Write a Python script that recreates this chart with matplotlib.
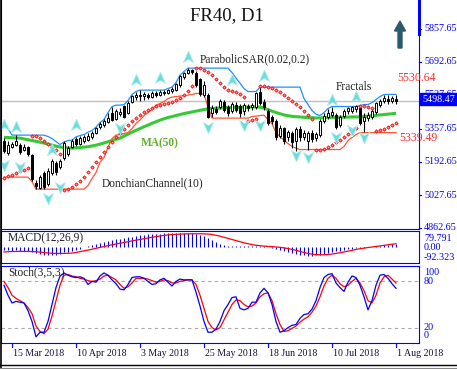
import matplotlib
matplotlib.use("Agg")
import matplotlib.pyplot as plt
import numpy as np
from matplotlib.path import Path
from matplotlib.patches import Rectangle, FancyArrow
from matplotlib.lines import Line2D

plt.rcParams['font.family'] = ['Liberation Serif', 'DejaVu Serif']

# ---------------- data ----------------
opens = [5300,5240,5270,5280,5280,5255,5268,5228,5090,5065,5140,5085,5140,5190,5170,5212,5235,5270,5310,5285,
         5300,5305,5318,5340,5368,5378,5395,5440,5410,5435,5475,5440,5495,5520,5530,5525,5530,5520,5540,5530,
         5545,5540,5550,5555,5580,5620,5640,5655,5640,5610,5530,5530,5440,5460,5470,5495,5470,5450,5480,5475,
         5450,5475,5470,5470,5545,5495,5450,5420,5400,5325,5365,5320,5340,5300,5360,5320,5300,5340,5315,5330,
         5400,5420,5430,5430,5380,5425,5450,5450,5460,5465,5400,5415,5420,5445,5480,5500,5510,5500,5510]
closes = [5250,5280,5285,5297,5245,5270,5232,5110,5075,5120,5070,5150,5200,5145,5200,5290,5262,5300,5285,5315,
          5320,5325,5340,5365,5385,5400,5415,5405,5450,5445,5420,5490,5525,5530,5525,5535,5520,5540,5530,5545,
          5540,5555,5560,5585,5625,5640,5655,5645,5580,5535,5580,5420,5465,5445,5500,5455,5440,5485,5455,5440,
          5480,5465,5480,5540,5490,5470,5390,5400,5320,5365,5300,5345,5295,5360,5320,5340,5340,5310,5335,5400,
          5425,5440,5445,5370,5420,5450,5465,5470,5475,5390,5420,5430,5450,5490,5500,5515,5500,5515,5498.47]
highs = [5315,5300,5295,5330,5290,5285,5275,5235,5105,5130,5150,5165,5210,5200,5210,5300,5275,5310,5320,5322,
         5330,5340,5350,5370,5392,5408,5440,5470,5458,5462,5480,5500,5530,5545,5552,5545,5540,5548,5550,5552,
         5552,5560,5567,5590,5627,5645,5662,5660,5648,5615,5600,5540,5480,5475,5510,5505,5480,5495,5492,5482,
         5490,5485,5490,5545,5567,5510,5460,5430,5410,5380,5370,5355,5350,5370,5375,5355,5350,5352,5345,5410,
         5440,5460,5470,5440,5430,5460,5470,5475,5480,5472,5440,5445,5460,5495,5510,5527,5530,5525,5530]
lows = [5240,5228,5262,5272,5232,5248,5225,5098,5060,5058,5060,5075,5130,5130,5160,5205,5225,5262,5275,5278,
        5290,5298,5310,5332,5360,5370,5388,5398,5402,5425,5412,5435,5488,5505,5500,5505,5508,5512,5520,5522,
        5530,5532,5540,5548,5570,5610,5632,5635,5570,5525,5520,5412,5420,5435,5460,5445,5425,5440,5445,5420,
        5430,5450,5455,5460,5480,5455,5380,5385,5305,5315,5285,5300,5265,5250,5300,5305,5255,5295,5300,5320,
        5390,5410,5420,5360,5370,5415,5435,5440,5445,5380,5345,5400,5410,5435,5470,5490,5485,5490,5485]

ma50 = [5316,5315,5314,5313,5312,5308,5304,5300,5296,5292,5287,5282,5277,5272,5268,5265,5263,5262,5263,5265,
        5267,5269,5273,5277,5282,5288,5294,5300,5306,5312,5322,5332,5342,5351,5360,5369,5377,5386,5394,5402,
        5409,5415,5420,5425,5430,5435,5439,5443,5447,5451,5455,5458,5460,5462,5463,5464,5465,5466,5466,5466,
        5467,5467,5468,5468,5467,5462,5455,5447,5440,5434,5428,5424,5421,5419,5418,5416,5415,5414,5413,5413,
        5414,5415,5416,5416,5416,5417,5417,5418,5418,5418,5420,5422,5424,5426,5428,5430,5432,5434,5436]

dc_upper = [5390,5360,5327,5327,5327,5327,5327,5327,5327,5327,5327,5320,5310,5295,5280,5292,5300,5302,5318,5325,
            5330,5342,5350,5367,5390,5405,5440,5470,5477,5477,5480,5500,5530,5545,5552,5552,5552,5552,5552,5552,
            5552,5560,5567,5590,5627,5645,5662,5662,5662,5662,5662,5662,5662,5662,5662,5662,5662,5640,5612,5587,
            5560,5545,5545,5545,5567,5567,5567,5567,5567,5567,5567,5567,5567,5567,5567,5510,5480,5450,5432,5425,
            5440,5460,5470,5470,5470,5470,5470,5470,5470,5475,5480,5480,5490,5505,5520,5530,5530.64,5530.64,5530.64]
dc_lower = [5117,5117,5117,5117,5117,5117,5117,5095,5057,5057,5057,5057,5057,5057,5057,5057,5057,5057,5057,5057,
            5057,5075,5110,5140,5192,5215,5265,5310,5327,5330,5335,5340,5360,5385,5402,5425,5440,5455,5477,5485,
            5495,5510,5517,5520,5522,5525,5527,5530,5535,5537,5530,5470,5412,5412,5412,5412,5412,5412,5412,5412,
            5412,5412,5420,5422,5425,5427,5405,5385,5340,5320,5300,5285,5270,5262,5255,5255,5255,5255,5255,5255,
            5255,5255,5255,5255,5255,5270,5300,5315,5330,5339.49,5339.49,5339.49,5339.49,5339.49,5339.49,5339.49,
            5339.49,5339.49,5339.49]

sar = [5115,5122,5130,5138,5146,5155,5163,5322,5322,5312,5300,5285,5270,5252,5232,5053,5058,5068,5083,5098,
       5118,5143,5168,5193,5218,5243,5268,5293,5318,5338,5358,5378,5398,5413,5428,5443,5453,5463,5473,5478,
       5483,5488,5493,5503,5513,5528,5548,5573,5662,5662,5652,5642,5627,5607,5587,5567,5552,5547,5542,5532,
       5517,5400,5405,5410,5572,5572,5567,5562,5552,5542,5527,5512,5497,5482,5467,5447,5427,5410,5252,5252,
       5257,5267,5277,5292,5302,5317,5332,5347,5362,5475,5472,5468,5465,5347,5352,5357,5367,5377,5387]

frac_up_idx = [0, 3, 12, 18, 33, 39, 46, 57, 65, 82, 88]
frac_up_val = [5377, 5367, 5252, 5377, 5602, 5612, 5717, 5602, 5622, 5502, 5517]
frac_dn_idx = [0, 4, 11, 14, 29, 51, 60, 64, 73, 76, 83, 87, 90]
frac_dn_val = [5177, 5167, 5012, 5067, 5362, 5367, 5377, 5377, 5227, 5217, 5317, 5352, 5317]

macd_main = [-30,-30,-32,-30,-32,-33,-36,-45,-58,-65,-72,-75,-72,-70,-62,-48,-42,-35,-30,-22,
             0,10,20,30,40,48,57,62,70,76,82,88,93,100,106,110,114,117,120,122,
             124,125,126,127,128,128,127,125,120,112,100,85,65,45,30,18,12,8,8,8,
             6,5,5,6,8,5,0,-8,-18,-25,-35,-45,-55,-62,-70,-75,-78,-78,-75,-68,
             -60,-52,-45,-40,-35,-28,-20,-14,-10,-10,-8,-4,0,6,12,18,22,26,30]
macd_signal = [-45,-43,-41,-40,-40,-40,-40,-41,-43,-46,-50,-54,-57,-58,-58,-58,-57,-55,-50,-42,
               -35,-28,-20,-12,-4,4,12,20,27,34,41,48,55,62,68,75,82,88,94,100,
               105,110,113,115,117,118,119,120,120,120,119,117,113,106,98,88,78,68,58,48,
               38,30,22,16,12,8,5,3,0,-3,-8,-14,-22,-30,-40,-50,-58,-65,-69,-70,
               -70,-68,-64,-58,-52,-45,-38,-30,-22,-16,-10,-5,0,5,10,15,20,25,30]

stoch_k = [75,62,52,54,53,52,42,28,8,14,14,28,50,72,87,91,88,86,85,86,
           84,76,80,79,87,91,88,82,77,70,69,76,85,86,86,84,80,76,77,82,
           84,79,74,80,83,82,82,82,66,48,28,14,14,18,28,42,50,59,60,45,
           43,45,53,53,65,71,65,50,28,14,16,20,23,24,32,37,38,44,55,72,
           85,89,90,78,72,67,79,87,85,75,60,43,55,75,88,89,84,77,71]
stoch_d = [80,72,62,58,55,52,46,38,22,15,12,18,35,55,75,88,89,87,86,84,
           83,81,80,81,83,87,88,85,82,76,71,73,78,84,84,84,83,81,79,80,
           82,81,78,78,80,81,82,82,76,62,45,28,20,17,20,30,40,50,56,55,
           50,47,48,52,60,64,65,55,38,24,15,16,19,22,27,31,34,40,48,60,
           74,84,88,84,77,73,75,80,84,78,68,55,52,62,78,86,88,83,78]

date_idx = [2, 18, 34, 50, 66, 82, 98]
date_labels = ["15 Mar 2018", "10 Apr 2018", "3 May 2018", "25 May 2018",
               "18 Jun 2018", "10 Jul 2018", "1 Aug 2018"]
price_ticks = [5857.65, 5692.65, 5527.65, 5357.65, 5192.65, 5027.65, 4862.65]
last_price = 5498.47
dc_up_last = 5530.64
dc_lo_last = 5339.49

# ---------------- layout helpers ----------------
W, H = 457, 369
fig = plt.figure(figsize=(W/100, H/100), dpi=100)
fig.patch.set_facecolor('white')

def rect(x0, y0, x1, y1):
    return [x0/W, 1 - y1/H, (x1-x0)/W, (y1-y0)/H]

BLUE = '#0000ff'
n = len(closes)
xs = np.arange(n)
XL = ((1-4)/4, (419-4)/4)

def px2price(y):
    return 5857.65 - (y - 29) * 5

# ---------------- main panel ----------------
ax = fig.add_axes(rect(1, 0, 419, 229))
ax.set_xlim(*XL)
ax.set_ylim(px2price(229), px2price(0))
ax.spines['top'].set_visible(False)
ax.spines['left'].set_color('black')
ax.spines['right'].set_color(BLUE)
ax.spines['bottom'].set_color(BLUE)
ax.set_xticks([]); ax.set_yticks([])

ax.axhline(last_price, color='#c0c0c0', lw=1.0, zorder=1)

o = np.array(opens, float); c = np.array(closes, float)
hi = np.array(highs, float); lo = np.array(lows, float)
ax.vlines(xs, lo, hi, color='black', lw=0.8, zorder=4)
bull = c >= o
bottoms = np.minimum(o, c)
heights = np.maximum(np.abs(c - o), 1.5)
ax.bar(xs[bull], heights[bull], bottom=bottoms[bull], width=0.72, color='white',
       edgecolor='black', lw=0.7, zorder=5)
ax.bar(xs[~bull], heights[~bull], bottom=bottoms[~bull], width=0.72, color='black',
       edgecolor='black', lw=0.7, zorder=5)

ax.plot(xs, ma50, color='#36c936', lw=2.2, zorder=3, solid_capstyle='butt')
ax.plot(xs, dc_upper, color='#1e90ff', lw=0.9, zorder=3)
ax.plot(xs, dc_lower, color='#ff5533', lw=0.9, zorder=3)
ax.plot(xs, sar, ls='none', marker='D', ms=1.7, mfc='#ff9999', mec='#ff0000', mew=0.6, zorder=6)

up_path = Path([(0, 1), (0.8, -0.8), (0, -0.3), (-0.8, -0.8), (0, 1)],
               [Path.MOVETO, Path.LINETO, Path.LINETO, Path.LINETO, Path.CLOSEPOLY])
dn_path = Path([(0, -1), (0.8, 0.8), (0, 0.3), (-0.8, 0.8), (0, -1)],
               [Path.MOVETO, Path.LINETO, Path.LINETO, Path.LINETO, Path.CLOSEPOLY])
ax.plot(frac_up_idx, frac_up_val, ls='none', marker=up_path, ms=9, mfc='#6edada',
        mec='#a8eeee', mew=0.6, zorder=7)
ax.plot(frac_dn_idx, frac_dn_val, ls='none', marker=dn_path, ms=9, mfc='#6edada',
        mec='#a8eeee', mew=0.6, zorder=7)

# labels in main chart
ax.text((227-4)/4, px2price(16), "FR40, D1", fontsize=13.5, ha='center', va='center', color='#111111')
ax.text((200-4)/4, px2price(59), "ParabolicSAR(0.02,0.2)", fontsize=8.3, ha='left', va='center', color='#222222')
ax.text((336-4)/4, px2price(87), "Fractals", fontsize=8.3, ha='left', va='center', color='#222222')
ax.text((141-4)/4, px2price(143), "MA(50)", fontsize=8.3, ha='left', va='center', color='#66b030',
        fontweight='bold')
ax.text((102-4)/4, px2price(183), "DonchianChannel(10)", fontsize=8.3, ha='left', va='center', color='#222222')
ax.text((397-4)/4, px2price(78), f"{dc_up_last:.2f}", fontsize=8.5, ha='left', va='center',
        color='#ff2a2a', clip_on=False, zorder=8)
ax.text((399-4)/4, px2price(138), f"{dc_lo_last:.2f}", fontsize=8.5, ha='left', va='center',
        color='#ff2a2a', clip_on=False, zorder=8)

# price axis labels
lx = (424-4)/4
for p in price_ticks:
    ax.text(lx, p, f"{p:.2f}", fontsize=7.3, color=BLUE, ha='left', va='center', clip_on=False, zorder=2)
    ax.plot([XL[1], XL[1] + 0.6], [p, p], color=BLUE, lw=0.8, clip_on=False)
# current price box
fig.patches.append(Rectangle((420/W, 1 - 105/H), 37/W, 12/H, transform=fig.transFigure,
                             facecolor=BLUE, edgecolor=BLUE, zorder=10))
fig.text(422/W, 1 - 99/H, f"{last_price:.2f}", fontsize=7.3, color='white', ha='left', va='center', zorder=11)
# scroll marker
fig.patches.append(Rectangle((418/W, 1 - 36/H), 3/W, 36/H, transform=fig.transFigure,
                             facecolor=BLUE, edgecolor='none', zorder=10))
# direction arrow
fig.patches.append(FancyArrow(400/W, 1 - 48/H, 0, 27/H, width=3.2/H, head_width=11/W,
                              head_length=10/H, length_includes_head=True, transform=fig.transFigure,
                              color='#2b5b6b', zorder=10))

# ---------------- MACD panel ----------------
axm = fig.add_axes(rect(1, 231, 419, 263))
axm.set_xlim(*XL)
def macd_val(y):
    return (247.0 - y) * 9.06
axm.set_ylim(macd_val(263), macd_val(231))
axm.set_xticks([]); axm.set_yticks([])
for s in ['top', 'right', 'bottom']:
    axm.spines[s].set_color(BLUE)
axm.spines['left'].set_color('black')
axm.vlines(xs, 0, macd_main, color=BLUE, lw=0.8)
axm.plot(xs, macd_signal, color='#ff0000', lw=0.9)
axm.text((8-4)/4, macd_val(238), "MACD(12,26,9)", fontsize=8.3, ha='left', va='center', color='#222222')
for v, yy in [(79.791, 238.3), (0.0, 247.5), (-92.323, 257.3)]:
    axm.text(lx, macd_val(yy), f"{v:.3f}" if v != 0 else "0.00", fontsize=7.3, color=BLUE,
             ha='left', va='center', clip_on=False)

# ---------------- Stoch panel ----------------
axs = fig.add_axes(rect(1, 266, 419, 343))
axs.set_xlim(*XL)
axs.set_ylim(0, 100)
axs.set_xticks([]); axs.set_yticks([])
for s in ['top', 'right', 'bottom']:
    axs.spines[s].set_color(BLUE)
axs.spines['left'].set_color('black')
axs.axhline(80, color='#aaaaaa', lw=0.8, ls=(0, (3, 3)))
axs.axhline(20, color='#aaaaaa', lw=0.8, ls=(0, (3, 3)))
axs.plot(xs, stoch_d, color='#ff0000', lw=0.9)
axs.plot(xs, stoch_k, color=BLUE, lw=0.9)
axs.text((8-4)/4, 92, "Stoch(3,5,3)", fontsize=8.3, ha='left', va='center', color='#222222')
for v, yy in [(100, 273), (80, 282.3), (20, 327.7), (0, 336)]:
    axs.text(lx, (343 - yy) / 0.76, f"{v}", fontsize=7.3, color=BLUE, ha='left', va='center', clip_on=False)

# date ticks and labels
for i, lab in zip(date_idx, date_labels):
    xp = 4 + 4 * i
    fig.add_artist(Line2D([xp/W, xp/W], [1 - 343/H, 1 - 347/H], color=BLUE, lw=0.8))
    fig.text((xp + 1)/W, 1 - 353/H, lab, fontsize=7.1, color='#10103a', ha='left', va='center')

# outer borders
fig.add_artist(Line2D([0.5/W, 0.5/W], [0, 1], color='black', lw=1.2))
fig.add_artist(Line2D([0, 1], [1 - 364.5/H, 1 - 364.5/H], color='black', lw=1.0))
fig.add_artist(Line2D([0, 1], [1 - 367.5/H, 1 - 367.5/H], color='#888888', lw=0.8))

fig.savefig("out.png", dpi=100, facecolor='white')
